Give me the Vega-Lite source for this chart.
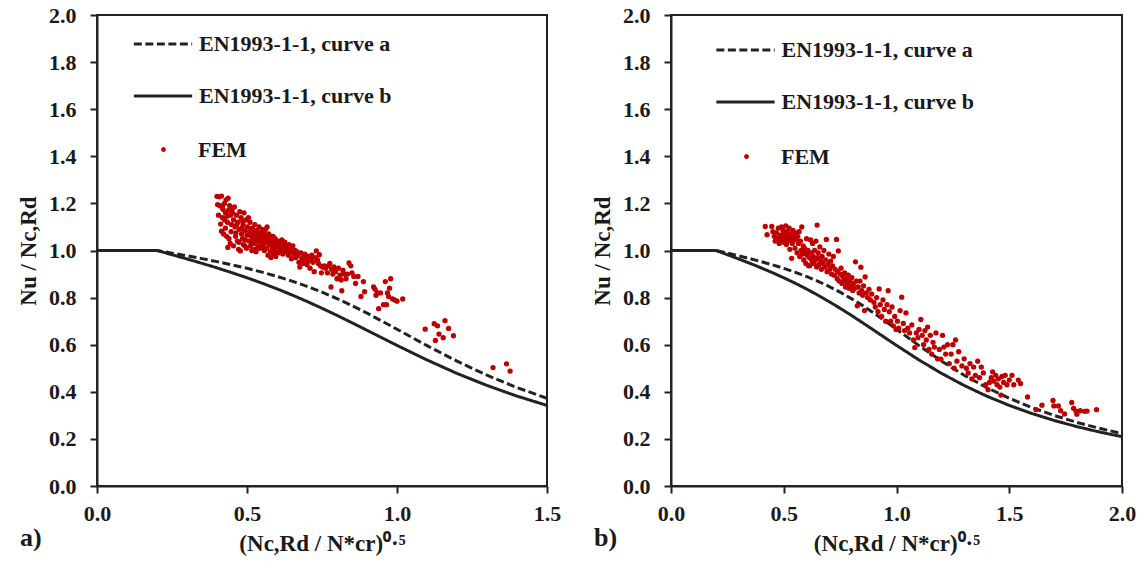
{
  "$schema": "https://vega.github.io/schema/vega-lite/v6.json",
  "background": "white",
  "padding": {"left": 16, "top": 3, "right": 2, "bottom": 2},
  "config": {
    "font": "Liberation Serif",
    "view": {"stroke": "#222", "strokeWidth": 2},
    "axis": {"domainColor": "#222", "domainWidth": 2, "tickColor": "#222", "tickWidth": 2, "tickSize": 7, "grid": false,
      "labelFont": "Liberation Serif", "labelFontSize": 22, "labelFontWeight": "bold", "labelColor": "#1a1a1a",
      "titleFont": "Liberation Serif", "titleFontSize": 23, "titleFontWeight": "bold", "titleColor": "#1a1a1a",
      "labelFlush": false, "labelOverlap": false},
    "axisX": {"labelPadding": 10, "titlePadding": 8},
    "axisY": {"labelPadding": 14, "titlePadding": 8},
    "legend": {"labelFont": "Liberation Serif", "labelFontSize": 22, "labelFontWeight": "bold", "labelColor": "#1a1a1a",
      "padding": 0, "rowPadding": 13, "symbolSize": 2809, "labelOffset": 8, "labelLimit": 400}
  },
  "datasets": {
    "curves": [
      {"curve": "EN1993-1-1, curve a", "x": 0, "y": 1},
      {"curve": "EN1993-1-1, curve a", "x": 0.2, "y": 1},
      {"curve": "EN1993-1-1, curve a", "x": 0.25, "y": 0.9889},
      {"curve": "EN1993-1-1, curve a", "x": 0.3, "y": 0.9775},
      {"curve": "EN1993-1-1, curve a", "x": 0.35, "y": 0.9655},
      {"curve": "EN1993-1-1, curve a", "x": 0.4, "y": 0.9528},
      {"curve": "EN1993-1-1, curve a", "x": 0.45, "y": 0.9391},
      {"curve": "EN1993-1-1, curve a", "x": 0.5, "y": 0.9243},
      {"curve": "EN1993-1-1, curve a", "x": 0.55, "y": 0.908},
      {"curve": "EN1993-1-1, curve a", "x": 0.6, "y": 0.89},
      {"curve": "EN1993-1-1, curve a", "x": 0.65, "y": 0.87},
      {"curve": "EN1993-1-1, curve a", "x": 0.7, "y": 0.8477},
      {"curve": "EN1993-1-1, curve a", "x": 0.75, "y": 0.823},
      {"curve": "EN1993-1-1, curve a", "x": 0.8, "y": 0.7957},
      {"curve": "EN1993-1-1, curve a", "x": 0.85, "y": 0.7659},
      {"curve": "EN1993-1-1, curve a", "x": 0.9, "y": 0.7339},
      {"curve": "EN1993-1-1, curve a", "x": 0.95, "y": 0.7003},
      {"curve": "EN1993-1-1, curve a", "x": 1.0, "y": 0.6656},
      {"curve": "EN1993-1-1, curve a", "x": 1.1, "y": 0.596},
      {"curve": "EN1993-1-1, curve a", "x": 1.2, "y": 0.53},
      {"curve": "EN1993-1-1, curve a", "x": 1.3, "y": 0.4703},
      {"curve": "EN1993-1-1, curve a", "x": 1.4, "y": 0.4179},
      {"curve": "EN1993-1-1, curve a", "x": 1.5, "y": 0.3724},
      {"curve": "EN1993-1-1, curve a", "x": 1.6, "y": 0.3332},
      {"curve": "EN1993-1-1, curve a", "x": 1.7, "y": 0.2994},
      {"curve": "EN1993-1-1, curve a", "x": 1.8, "y": 0.2702},
      {"curve": "EN1993-1-1, curve a", "x": 1.9, "y": 0.2449},
      {"curve": "EN1993-1-1, curve a", "x": 2.0, "y": 0.2229},
      {"curve": "EN1993-1-1, curve b", "x": 0, "y": 1},
      {"curve": "EN1993-1-1, curve b", "x": 0.2, "y": 1},
      {"curve": "EN1993-1-1, curve b", "x": 0.25, "y": 0.9822},
      {"curve": "EN1993-1-1, curve b", "x": 0.3, "y": 0.9641},
      {"curve": "EN1993-1-1, curve b", "x": 0.35, "y": 0.9455},
      {"curve": "EN1993-1-1, curve b", "x": 0.4, "y": 0.9261},
      {"curve": "EN1993-1-1, curve b", "x": 0.45, "y": 0.9057},
      {"curve": "EN1993-1-1, curve b", "x": 0.5, "y": 0.8842},
      {"curve": "EN1993-1-1, curve b", "x": 0.55, "y": 0.8614},
      {"curve": "EN1993-1-1, curve b", "x": 0.6, "y": 0.8371},
      {"curve": "EN1993-1-1, curve b", "x": 0.65, "y": 0.8112},
      {"curve": "EN1993-1-1, curve b", "x": 0.7, "y": 0.7837},
      {"curve": "EN1993-1-1, curve b", "x": 0.75, "y": 0.7547},
      {"curve": "EN1993-1-1, curve b", "x": 0.8, "y": 0.7245},
      {"curve": "EN1993-1-1, curve b", "x": 0.85, "y": 0.6931},
      {"curve": "EN1993-1-1, curve b", "x": 0.9, "y": 0.6612},
      {"curve": "EN1993-1-1, curve b", "x": 0.95, "y": 0.629},
      {"curve": "EN1993-1-1, curve b", "x": 1.0, "y": 0.597},
      {"curve": "EN1993-1-1, curve b", "x": 1.1, "y": 0.5352},
      {"curve": "EN1993-1-1, curve b", "x": 1.2, "y": 0.4781},
      {"curve": "EN1993-1-1, curve b", "x": 1.3, "y": 0.4269},
      {"curve": "EN1993-1-1, curve b", "x": 1.4, "y": 0.3817},
      {"curve": "EN1993-1-1, curve b", "x": 1.5, "y": 0.3422},
      {"curve": "EN1993-1-1, curve b", "x": 1.6, "y": 0.3079},
      {"curve": "EN1993-1-1, curve b", "x": 1.7, "y": 0.2781},
      {"curve": "EN1993-1-1, curve b", "x": 1.8, "y": 0.2521},
      {"curve": "EN1993-1-1, curve b", "x": 1.9, "y": 0.2294},
      {"curve": "EN1993-1-1, curve b", "x": 2.0, "y": 0.2095}
    ],
    "femA": [
      {"type":"FEM","x":0.400,"y":1.230},{"type":"FEM","x":0.408,"y":1.228},{"type":"FEM","x":0.415,"y":1.231},{"type":"FEM","x":0.402,"y":1.195},
      {"type":"FEM","x":0.410,"y":1.190},{"type":"FEM","x":0.418,"y":1.185},{"type":"FEM","x":0.405,"y":1.150},{"type":"FEM","x":0.412,"y":1.112},
      {"type":"FEM","x":0.420,"y":1.175},{"type":"FEM","x":0.425,"y":1.200},{"type":"FEM","x":0.430,"y":1.215},{"type":"FEM","x":0.437,"y":1.222},
      {"type":"FEM","x":0.428,"y":1.160},{"type":"FEM","x":0.433,"y":1.145},{"type":"FEM","x":0.438,"y":1.170},{"type":"FEM","x":0.442,"y":1.190},
      {"type":"FEM","x":0.415,"y":1.082},{"type":"FEM","x":0.422,"y":1.070},{"type":"FEM","x":0.428,"y":1.095},{"type":"FEM","x":0.435,"y":1.120},
      {"type":"FEM","x":0.440,"y":1.050},{"type":"FEM","x":0.436,"y":1.013},{"type":"FEM","x":0.444,"y":1.030},{"type":"FEM","x":0.448,"y":1.110},
      {"type":"FEM","x":0.445,"y":1.150},{"type":"FEM","x":0.450,"y":1.175},{"type":"FEM","x":0.425,"y":1.130},{"type":"FEM","x":0.418,"y":1.140},
      {"type":"FEM","x":0.432,"y":1.060},{"type":"FEM","x":0.447,"y":1.080},
      {"type":"FEM","x":0.452,"y":1.160},{"type":"FEM","x":0.455,"y":1.130},{"type":"FEM","x":0.458,"y":1.185},{"type":"FEM","x":0.460,"y":1.100},
      {"type":"FEM","x":0.462,"y":1.060},{"type":"FEM","x":0.465,"y":1.150},{"type":"FEM","x":0.468,"y":1.040},{"type":"FEM","x":0.470,"y":1.120},
      {"type":"FEM","x":0.472,"y":1.005},{"type":"FEM","x":0.475,"y":1.090},{"type":"FEM","x":0.476,"y":1.165},{"type":"FEM","x":0.478,"y":0.998},
      {"type":"FEM","x":0.480,"y":1.140},{"type":"FEM","x":0.482,"y":1.070},{"type":"FEM","x":0.485,"y":1.050},{"type":"FEM","x":0.487,"y":1.110},
      {"type":"FEM","x":0.488,"y":1.025},{"type":"FEM","x":0.490,"y":1.160},{"type":"FEM","x":0.492,"y":1.085},{"type":"FEM","x":0.494,"y":1.045},
      {"type":"FEM","x":0.496,"y":1.130},{"type":"FEM","x":0.498,"y":1.010},{"type":"FEM","x":0.500,"y":1.065},{"type":"FEM","x":0.455,"y":1.020},
      {"type":"FEM","x":0.463,"y":1.075},{"type":"FEM","x":0.473,"y":1.035},{"type":"FEM","x":0.483,"y":1.095},{"type":"FEM","x":0.493,"y":1.020},
      {"type":"FEM","x":0.466,"y":1.110},{"type":"FEM","x":0.486,"y":1.125},
      {"type":"FEM","x":0.502,"y":1.100},{"type":"FEM","x":0.505,"y":1.140},{"type":"FEM","x":0.507,"y":1.040},{"type":"FEM","x":0.508,"y":1.080},
      {"type":"FEM","x":0.510,"y":1.120},{"type":"FEM","x":0.512,"y":1.020},{"type":"FEM","x":0.514,"y":1.060},{"type":"FEM","x":0.516,"y":1.000},
      {"type":"FEM","x":0.518,"y":1.095},{"type":"FEM","x":0.520,"y":1.045},{"type":"FEM","x":0.522,"y":1.075},{"type":"FEM","x":0.524,"y":1.030},
      {"type":"FEM","x":0.526,"y":1.110},{"type":"FEM","x":0.528,"y":1.055},{"type":"FEM","x":0.530,"y":0.995},{"type":"FEM","x":0.532,"y":1.085},
      {"type":"FEM","x":0.534,"y":1.040},{"type":"FEM","x":0.536,"y":1.065},{"type":"FEM","x":0.538,"y":1.020},{"type":"FEM","x":0.540,"y":1.100},
      {"type":"FEM","x":0.542,"y":1.050},{"type":"FEM","x":0.544,"y":1.010},{"type":"FEM","x":0.546,"y":1.075},{"type":"FEM","x":0.548,"y":1.035},
      {"type":"FEM","x":0.550,"y":1.090},{"type":"FEM","x":0.515,"y":1.030},{"type":"FEM","x":0.525,"y":1.005},{"type":"FEM","x":0.535,"y":1.010},
      {"type":"FEM","x":0.545,"y":1.060},{"type":"FEM","x":0.519,"y":1.065},
      {"type":"FEM","x":0.552,"y":1.050},{"type":"FEM","x":0.554,"y":1.020},{"type":"FEM","x":0.556,"y":1.080},{"type":"FEM","x":0.558,"y":1.000},
      {"type":"FEM","x":0.560,"y":1.065},{"type":"FEM","x":0.562,"y":1.090},{"type":"FEM","x":0.564,"y":1.035},{"type":"FEM","x":0.566,"y":1.010},
      {"type":"FEM","x":0.568,"y":1.055},{"type":"FEM","x":0.570,"y":0.980},{"type":"FEM","x":0.572,"y":1.070},{"type":"FEM","x":0.574,"y":1.025},
      {"type":"FEM","x":0.576,"y":1.045},{"type":"FEM","x":0.578,"y":0.995},{"type":"FEM","x":0.580,"y":0.970},{"type":"FEM","x":0.582,"y":1.060},
      {"type":"FEM","x":0.584,"y":1.015},{"type":"FEM","x":0.586,"y":1.040},{"type":"FEM","x":0.588,"y":0.985},{"type":"FEM","x":0.590,"y":1.030},
      {"type":"FEM","x":0.592,"y":1.005},{"type":"FEM","x":0.594,"y":1.050},{"type":"FEM","x":0.596,"y":0.975},{"type":"FEM","x":0.598,"y":1.020},
      {"type":"FEM","x":0.600,"y":1.040},{"type":"FEM","x":0.557,"y":1.040},{"type":"FEM","x":0.567,"y":1.100},{"type":"FEM","x":0.577,"y":1.030},
      {"type":"FEM","x":0.587,"y":1.060},{"type":"FEM","x":0.597,"y":0.995},
      {"type":"FEM","x":0.602,"y":1.010},{"type":"FEM","x":0.605,"y":1.030},{"type":"FEM","x":0.608,"y":0.990},{"type":"FEM","x":0.610,"y":1.040},
      {"type":"FEM","x":0.612,"y":1.020},{"type":"FEM","x":0.615,"y":1.000},{"type":"FEM","x":0.618,"y":1.025},{"type":"FEM","x":0.620,"y":0.985},
      {"type":"FEM","x":0.623,"y":1.015},{"type":"FEM","x":0.626,"y":1.035},{"type":"FEM","x":0.629,"y":0.995},{"type":"FEM","x":0.632,"y":1.020},
      {"type":"FEM","x":0.635,"y":1.005},{"type":"FEM","x":0.638,"y":0.980},{"type":"FEM","x":0.640,"y":1.025},{"type":"FEM","x":0.643,"y":0.990},
      {"type":"FEM","x":0.646,"y":1.010},{"type":"FEM","x":0.648,"y":0.965},{"type":"FEM","x":0.650,"y":1.000},{"type":"FEM","x":0.606,"y":1.005},
      {"type":"FEM","x":0.616,"y":1.045},{"type":"FEM","x":0.627,"y":1.010},
      {"type":"FEM","x":0.653,"y":1.020},{"type":"FEM","x":0.656,"y":0.985},{"type":"FEM","x":0.660,"y":1.000},{"type":"FEM","x":0.663,"y":0.970},
      {"type":"FEM","x":0.666,"y":0.995},{"type":"FEM","x":0.670,"y":0.980},{"type":"FEM","x":0.673,"y":0.950},{"type":"FEM","x":0.676,"y":0.930},
      {"type":"FEM","x":0.680,"y":0.990},{"type":"FEM","x":0.683,"y":0.965},{"type":"FEM","x":0.686,"y":0.945},{"type":"FEM","x":0.690,"y":0.975},
      {"type":"FEM","x":0.693,"y":0.985},{"type":"FEM","x":0.696,"y":0.960},{"type":"FEM","x":0.700,"y":0.940},{"type":"FEM","x":0.703,"y":0.975},
      {"type":"FEM","x":0.706,"y":0.955},{"type":"FEM","x":0.710,"y":0.925},{"type":"FEM","x":0.713,"y":0.965},{"type":"FEM","x":0.716,"y":0.980},
      {"type":"FEM","x":0.720,"y":0.950},{"type":"FEM","x":0.724,"y":0.910},{"type":"FEM","x":0.728,"y":0.970},{"type":"FEM","x":0.731,"y":0.998},
      {"type":"FEM","x":0.735,"y":0.960},{"type":"FEM","x":0.738,"y":0.945},{"type":"FEM","x":0.741,"y":0.982},{"type":"FEM","x":0.745,"y":0.935},
      {"type":"FEM","x":0.748,"y":0.905},
      {"type":"FEM","x":0.752,"y":0.930},{"type":"FEM","x":0.758,"y":0.935},{"type":"FEM","x":0.762,"y":0.925},{"type":"FEM","x":0.768,"y":0.905},
      {"type":"FEM","x":0.772,"y":0.935},{"type":"FEM","x":0.776,"y":0.945},{"type":"FEM","x":0.780,"y":0.845},{"type":"FEM","x":0.782,"y":0.920},
      {"type":"FEM","x":0.786,"y":0.900},{"type":"FEM","x":0.790,"y":0.930},{"type":"FEM","x":0.795,"y":0.910},{"type":"FEM","x":0.800,"y":0.880},
      {"type":"FEM","x":0.805,"y":0.925},{"type":"FEM","x":0.810,"y":0.895},{"type":"FEM","x":0.814,"y":0.875},{"type":"FEM","x":0.816,"y":0.829},
      {"type":"FEM","x":0.820,"y":0.915},{"type":"FEM","x":0.824,"y":0.900},{"type":"FEM","x":0.830,"y":0.880},{"type":"FEM","x":0.835,"y":0.900},
      {"type":"FEM","x":0.840,"y":0.947},{"type":"FEM","x":0.846,"y":0.935},{"type":"FEM","x":0.850,"y":0.905},{"type":"FEM","x":0.856,"y":0.890},
      {"type":"FEM","x":0.862,"y":0.860},{"type":"FEM","x":0.870,"y":0.890},{"type":"FEM","x":0.880,"y":0.805},{"type":"FEM","x":0.888,"y":0.868},
      {"type":"FEM","x":0.892,"y":0.825},
      {"type":"FEM","x":0.922,"y":0.845},{"type":"FEM","x":0.927,"y":0.835},{"type":"FEM","x":0.930,"y":0.810},{"type":"FEM","x":0.935,"y":0.820},
      {"type":"FEM","x":0.939,"y":0.753},{"type":"FEM","x":0.945,"y":0.820},{"type":"FEM","x":0.955,"y":0.770},{"type":"FEM","x":0.961,"y":0.868},
      {"type":"FEM","x":0.965,"y":0.770},{"type":"FEM","x":0.968,"y":0.820},{"type":"FEM","x":0.972,"y":0.805},{"type":"FEM","x":0.975,"y":0.840},
      {"type":"FEM","x":0.979,"y":0.880},{"type":"FEM","x":0.985,"y":0.795},{"type":"FEM","x":0.992,"y":0.790},{"type":"FEM","x":1.000,"y":0.785},
      {"type":"FEM","x":1.019,"y":0.794},
      {"type":"FEM","x":1.094,"y":0.666},{"type":"FEM","x":1.124,"y":0.689},{"type":"FEM","x":1.128,"y":0.618},{"type":"FEM","x":1.135,"y":0.680},
      {"type":"FEM","x":1.140,"y":0.645},{"type":"FEM","x":1.154,"y":0.630},{"type":"FEM","x":1.160,"y":0.702},{"type":"FEM","x":1.172,"y":0.669},
      {"type":"FEM","x":1.188,"y":0.638},{"type":"FEM","x":1.320,"y":0.503},{"type":"FEM","x":1.365,"y":0.519},{"type":"FEM","x":1.377,"y":0.488}
    ],
    "femB": [
      {"type":"FEM","x":0.418,"y":1.102},{"type":"FEM","x":0.426,"y":1.067},{"type":"FEM","x":0.447,"y":1.102},{"type":"FEM","x":0.452,"y":1.080},
      {"type":"FEM","x":0.458,"y":1.060},{"type":"FEM","x":0.462,"y":1.040},{"type":"FEM","x":0.468,"y":1.075},{"type":"FEM","x":0.472,"y":1.050},
      {"type":"FEM","x":0.476,"y":1.095},{"type":"FEM","x":0.480,"y":1.030},{"type":"FEM","x":0.484,"y":1.065},{"type":"FEM","x":0.488,"y":1.045},
      {"type":"FEM","x":0.490,"y":1.100},{"type":"FEM","x":0.494,"y":1.055},{"type":"FEM","x":0.497,"y":1.085},{"type":"FEM","x":0.500,"y":1.035},
      {"type":"FEM","x":0.503,"y":1.070},{"type":"FEM","x":0.506,"y":1.050},{"type":"FEM","x":0.509,"y":1.105},{"type":"FEM","x":0.512,"y":1.025},
      {"type":"FEM","x":0.515,"y":1.080},{"type":"FEM","x":0.518,"y":1.060},{"type":"FEM","x":0.521,"y":1.040},{"type":"FEM","x":0.524,"y":1.095},
      {"type":"FEM","x":0.527,"y":1.005},{"type":"FEM","x":0.530,"y":1.070},{"type":"FEM","x":0.533,"y":1.050},{"type":"FEM","x":0.535,"y":0.967},
      {"type":"FEM","x":0.538,"y":1.030},{"type":"FEM","x":0.541,"y":1.085},{"type":"FEM","x":0.544,"y":1.060},{"type":"FEM","x":0.547,"y":1.045},
      {"type":"FEM","x":0.550,"y":1.010},
      {"type":"FEM","x":0.553,"y":1.075},{"type":"FEM","x":0.556,"y":1.050},{"type":"FEM","x":0.559,"y":0.990},{"type":"FEM","x":0.562,"y":1.060},
      {"type":"FEM","x":0.565,"y":1.030},{"type":"FEM","x":0.568,"y":1.080},{"type":"FEM","x":0.571,"y":0.975},{"type":"FEM","x":0.574,"y":1.040},
      {"type":"FEM","x":0.577,"y":1.000},{"type":"FEM","x":0.580,"y":1.100},{"type":"FEM","x":0.583,"y":0.985},{"type":"FEM","x":0.586,"y":1.020},
      {"type":"FEM","x":0.589,"y":0.960},{"type":"FEM","x":0.592,"y":1.010},{"type":"FEM","x":0.595,"y":0.995},{"type":"FEM","x":0.598,"y":0.945},
      {"type":"FEM","x":0.601,"y":1.050},{"type":"FEM","x":0.604,"y":0.980},{"type":"FEM","x":0.607,"y":1.000},{"type":"FEM","x":0.610,"y":0.935},
      {"type":"FEM","x":0.613,"y":0.970},{"type":"FEM","x":0.616,"y":0.936},{"type":"FEM","x":0.619,"y":1.045},{"type":"FEM","x":0.622,"y":0.990},
      {"type":"FEM","x":0.625,"y":0.955},{"type":"FEM","x":0.628,"y":1.030},{"type":"FEM","x":0.631,"y":0.975},{"type":"FEM","x":0.634,"y":0.945},
      {"type":"FEM","x":0.637,"y":1.000},{"type":"FEM","x":0.640,"y":0.960},{"type":"FEM","x":0.643,"y":1.040},{"type":"FEM","x":0.646,"y":0.930},
      {"type":"FEM","x":0.648,"y":1.108},{"type":"FEM","x":0.650,"y":0.970},{"type":"FEM","x":0.653,"y":0.990},{"type":"FEM","x":0.656,"y":0.940},
      {"type":"FEM","x":0.660,"y":1.015},{"type":"FEM","x":0.664,"y":0.955},{"type":"FEM","x":0.667,"y":0.920},{"type":"FEM","x":0.670,"y":0.975},
      {"type":"FEM","x":0.674,"y":0.945},{"type":"FEM","x":0.678,"y":1.000},{"type":"FEM","x":0.682,"y":0.930},{"type":"FEM","x":0.686,"y":0.960},
      {"type":"FEM","x":0.689,"y":1.047},{"type":"FEM","x":0.692,"y":0.910},{"type":"FEM","x":0.696,"y":0.940},
      {"type":"FEM","x":0.700,"y":0.985},{"type":"FEM","x":0.704,"y":0.920},{"type":"FEM","x":0.708,"y":0.955},{"type":"FEM","x":0.712,"y":0.900},
      {"type":"FEM","x":0.716,"y":0.935},{"type":"FEM","x":0.720,"y":0.975},{"type":"FEM","x":0.724,"y":0.895},{"type":"FEM","x":0.728,"y":0.920},
      {"type":"FEM","x":0.734,"y":1.047},{"type":"FEM","x":0.737,"y":0.880},{"type":"FEM","x":0.740,"y":0.910},{"type":"FEM","x":0.742,"y":0.998},
      {"type":"FEM","x":0.746,"y":0.870},{"type":"FEM","x":0.750,"y":0.900},{"type":"FEM","x":0.754,"y":0.925},{"type":"FEM","x":0.758,"y":0.860},
      {"type":"FEM","x":0.762,"y":0.890},{"type":"FEM","x":0.766,"y":0.870},{"type":"FEM","x":0.770,"y":0.905},{"type":"FEM","x":0.774,"y":0.845},
      {"type":"FEM","x":0.778,"y":0.880},{"type":"FEM","x":0.782,"y":0.860},{"type":"FEM","x":0.786,"y":0.895},{"type":"FEM","x":0.790,"y":0.840},
      {"type":"FEM","x":0.794,"y":0.870},{"type":"FEM","x":0.798,"y":0.850},{"type":"FEM","x":0.802,"y":0.885},{"type":"FEM","x":0.806,"y":0.830},
      {"type":"FEM","x":0.810,"y":0.860},{"type":"FEM","x":0.814,"y":0.840},{"type":"FEM","x":0.818,"y":0.952},{"type":"FEM","x":0.822,"y":0.870},
      {"type":"FEM","x":0.826,"y":0.765},{"type":"FEM","x":0.830,"y":0.845},{"type":"FEM","x":0.834,"y":0.820},{"type":"FEM","x":0.838,"y":0.870},
      {"type":"FEM","x":0.842,"y":0.929},{"type":"FEM","x":0.846,"y":0.830},{"type":"FEM","x":0.850,"y":0.810},{"type":"FEM","x":0.854,"y":0.850},
      {"type":"FEM","x":0.858,"y":0.745},{"type":"FEM","x":0.861,"y":0.888},{"type":"FEM","x":0.866,"y":0.820},{"type":"FEM","x":0.872,"y":0.800},
      {"type":"FEM","x":0.878,"y":0.835},{"type":"FEM","x":0.884,"y":0.790},{"type":"FEM","x":0.890,"y":0.815},
      {"type":"FEM","x":0.900,"y":0.780},{"type":"FEM","x":0.906,"y":0.760},{"type":"FEM","x":0.912,"y":0.800},{"type":"FEM","x":0.918,"y":0.740},
      {"type":"FEM","x":0.923,"y":0.837},{"type":"FEM","x":0.928,"y":0.770},{"type":"FEM","x":0.934,"y":0.720},{"type":"FEM","x":0.940,"y":0.790},
      {"type":"FEM","x":0.946,"y":0.750},{"type":"FEM","x":0.952,"y":0.700},{"type":"FEM","x":0.958,"y":0.770},{"type":"FEM","x":0.963,"y":0.829},
      {"type":"FEM","x":0.968,"y":0.740},{"type":"FEM","x":0.974,"y":0.700},{"type":"FEM","x":0.980,"y":0.760},{"type":"FEM","x":0.986,"y":0.680},
      {"type":"FEM","x":0.992,"y":0.720},{"type":"FEM","x":0.998,"y":0.665},{"type":"FEM","x":1.004,"y":0.700},{"type":"FEM","x":1.010,"y":0.670},
      {"type":"FEM","x":1.016,"y":0.745},{"type":"FEM","x":1.023,"y":0.802},{"type":"FEM","x":1.030,"y":0.690},{"type":"FEM","x":1.036,"y":0.660},
      {"type":"FEM","x":1.042,"y":0.735},{"type":"FEM","x":1.050,"y":0.670},{"type":"FEM","x":1.058,"y":0.650},{"type":"FEM","x":1.068,"y":0.684},
      {"type":"FEM","x":1.075,"y":0.620},{"type":"FEM","x":1.081,"y":0.588},{"type":"FEM","x":1.088,"y":0.650},{"type":"FEM","x":1.095,"y":0.630},
      {"type":"FEM","x":1.100,"y":0.665},{"type":"FEM","x":1.108,"y":0.707},{"type":"FEM","x":1.114,"y":0.640},{"type":"FEM","x":1.120,"y":0.600},
      {"type":"FEM","x":1.126,"y":0.660},{"type":"FEM","x":1.132,"y":0.620},{"type":"FEM","x":1.138,"y":0.675},{"type":"FEM","x":1.144,"y":0.580},
      {"type":"FEM","x":1.150,"y":0.640},{"type":"FEM","x":1.156,"y":0.560},{"type":"FEM","x":1.162,"y":0.610},{"type":"FEM","x":1.168,"y":0.590},
      {"type":"FEM","x":1.175,"y":0.650},{"type":"FEM","x":1.182,"y":0.540},{"type":"FEM","x":1.190,"y":0.580},{"type":"FEM","x":1.197,"y":0.539},
      {"type":"FEM","x":1.204,"y":0.640},{"type":"FEM","x":1.210,"y":0.590},{"type":"FEM","x":1.218,"y":0.560},{"type":"FEM","x":1.226,"y":0.600},
      {"type":"FEM","x":1.234,"y":0.520},{"type":"FEM","x":1.242,"y":0.560},{"type":"FEM","x":1.250,"y":0.600},{"type":"FEM","x":1.256,"y":0.500},
      {"type":"FEM","x":1.262,"y":0.620},{"type":"FEM","x":1.268,"y":0.530},{"type":"FEM","x":1.276,"y":0.570},{"type":"FEM","x":1.290,"y":0.510},
      {"type":"FEM","x":1.300,"y":0.540},{"type":"FEM","x":1.310,"y":0.500},{"type":"FEM","x":1.318,"y":0.480},{"type":"FEM","x":1.326,"y":0.520},
      {"type":"FEM","x":1.334,"y":0.455},{"type":"FEM","x":1.342,"y":0.505},{"type":"FEM","x":1.350,"y":0.470},{"type":"FEM","x":1.360,"y":0.530},
      {"type":"FEM","x":1.368,"y":0.460},{"type":"FEM","x":1.376,"y":0.505},{"type":"FEM","x":1.385,"y":0.480},{"type":"FEM","x":1.395,"y":0.430},
      {"type":"FEM","x":1.406,"y":0.409},{"type":"FEM","x":1.412,"y":0.440},{"type":"FEM","x":1.420,"y":0.460},{"type":"FEM","x":1.426,"y":0.485},
      {"type":"FEM","x":1.432,"y":0.445},{"type":"FEM","x":1.440,"y":0.470},{"type":"FEM","x":1.446,"y":0.430},{"type":"FEM","x":1.452,"y":0.455},
      {"type":"FEM","x":1.458,"y":0.420},{"type":"FEM","x":1.463,"y":0.386},{"type":"FEM","x":1.468,"y":0.465},{"type":"FEM","x":1.475,"y":0.440},
      {"type":"FEM","x":1.482,"y":0.470},{"type":"FEM","x":1.490,"y":0.430},{"type":"FEM","x":1.500,"y":0.450},{"type":"FEM","x":1.512,"y":0.470},
      {"type":"FEM","x":1.520,"y":0.430},{"type":"FEM","x":1.540,"y":0.450},{"type":"FEM","x":1.550,"y":0.435},{"type":"FEM","x":1.581,"y":0.378},
      {"type":"FEM","x":1.619,"y":0.324},{"type":"FEM","x":1.645,"y":0.343},{"type":"FEM","x":1.694,"y":0.363},{"type":"FEM","x":1.698,"y":0.340},
      {"type":"FEM","x":1.718,"y":0.340},{"type":"FEM","x":1.728,"y":0.320},{"type":"FEM","x":1.745,"y":0.306},{"type":"FEM","x":1.777,"y":0.355},
      {"type":"FEM","x":1.785,"y":0.330},{"type":"FEM","x":1.796,"y":0.318},{"type":"FEM","x":1.800,"y":0.305},{"type":"FEM","x":1.815,"y":0.320},
      {"type":"FEM","x":1.834,"y":0.317},{"type":"FEM","x":1.845,"y":0.318},{"type":"FEM","x":1.887,"y":0.324}
    ]
  },
  "spacing": 28,
  "resolve": {
    "scale": {"x": "independent", "y": "independent", "strokeDash": "independent", "color": "independent"},
    "legend": {"strokeDash": "independent", "color": "independent"}
  },
  "hconcat": [
    {
      "width": 450, "height": 471,
      "title": {"text": "a)", "orient": "bottom", "anchor": "start", "frame": "group", "dx": -77, "offset": -30,
        "font": "Liberation Serif", "fontSize": 26, "fontWeight": "bold", "color": "#1a1a1a"},
      "layer": [
        {
          "data": {"name": "curves"},
          "transform": [{"filter": "datum.x <= 1.5"}],
          "mark": {"type": "line", "color": "#222", "strokeWidth": 3},
          "encoding": {
            "x": {"field": "x", "type": "quantitative", "scale": {"domain": [0, 1.5], "nice": false},
              "axis": {"values": [0, 0.5, 1, 1.5], "format": ".1f", "title": "(Nc,Rd / N*cr)⁰·⁵"}},
            "y": {"field": "y", "type": "quantitative", "scale": {"domain": [0, 2], "nice": false},
              "axis": {"values": [0, 0.2, 0.4, 0.6, 0.8, 1, 1.2, 1.4, 1.6, 1.8, 2], "format": ".1f", "title": "Nu / Nc,Rd"}},
            "strokeDash": {"field": "curve", "type": "nominal",
              "scale": {"domain": ["EN1993-1-1, curve a", "EN1993-1-1, curve b"], "range": [[8, 3.5], [1, 0]]},
              "legend": {"title": null, "orient": "none", "legendX": 38, "legendY": 1, "symbolType": "M-1.1,0H1.1",
                "symbolStrokeColor": "#222", "symbolStrokeWidth": 3}}
          }
        },
        {
          "data": {"name": "femA"},
          "mark": {"type": "point", "filled": true, "size": 28, "opacity": 1, "shape": "circle"},
          "encoding": {
            "x": {"field": "x", "type": "quantitative"},
            "y": {"field": "y", "type": "quantitative"},
            "color": {"field": "type", "type": "nominal", "scale": {"domain": ["FEM"], "range": ["#c00000"]},
              "legend": {"title": null, "orient": "none", "legendX": 40, "legendY": 108,
                "symbolType": "M-0.09,0A0.09,0.09,0,1,1,0.09,0A0.09,0.09,0,1,1,-0.09,0Z", "symbolStrokeWidth": 0, "symbolOpacity": 1}}
          }
        }
      ]
    },
    {
      "width": 451, "height": 471,
      "title": {"text": "b)", "orient": "bottom", "anchor": "start", "frame": "group", "dx": -77, "offset": -30,
        "font": "Liberation Serif", "fontSize": 26, "fontWeight": "bold", "color": "#1a1a1a"},
      "layer": [
        {
          "data": {"name": "curves"},
          "mark": {"type": "line", "color": "#222", "strokeWidth": 3},
          "encoding": {
            "x": {"field": "x", "type": "quantitative", "scale": {"domain": [0, 2], "nice": false},
              "axis": {"values": [0, 0.5, 1, 1.5, 2], "format": ".1f", "title": "(Nc,Rd / N*cr)⁰·⁵"}},
            "y": {"field": "y", "type": "quantitative", "scale": {"domain": [0, 2], "nice": false},
              "axis": {"values": [0, 0.2, 0.4, 0.6, 0.8, 1, 1.2, 1.4, 1.6, 1.8, 2], "format": ".1f", "title": "Nu / Nc,Rd"}},
            "strokeDash": {"field": "curve", "type": "nominal",
              "scale": {"domain": ["EN1993-1-1, curve a", "EN1993-1-1, curve b"], "range": [[8, 3.5], [1, 0]]},
              "legend": {"title": null, "orient": "none", "legendX": 46.5, "legendY": 7, "symbolType": "M-1.1,0H1.1",
                "symbolStrokeColor": "#222", "symbolStrokeWidth": 3}}
          }
        },
        {
          "data": {"name": "femB"},
          "mark": {"type": "point", "filled": true, "size": 28, "opacity": 1, "shape": "circle"},
          "encoding": {
            "x": {"field": "x", "type": "quantitative"},
            "y": {"field": "y", "type": "quantitative"},
            "color": {"field": "type", "type": "nominal", "scale": {"domain": ["FEM"], "range": ["#c00000"]},
              "legend": {"title": null, "orient": "none", "legendX": 49, "legendY": 115,
                "symbolType": "M-0.09,0A0.09,0.09,0,1,1,0.09,0A0.09,0.09,0,1,1,-0.09,0Z", "symbolStrokeWidth": 0, "symbolOpacity": 1}}
          }
        }
      ]
    }
  ]
}
